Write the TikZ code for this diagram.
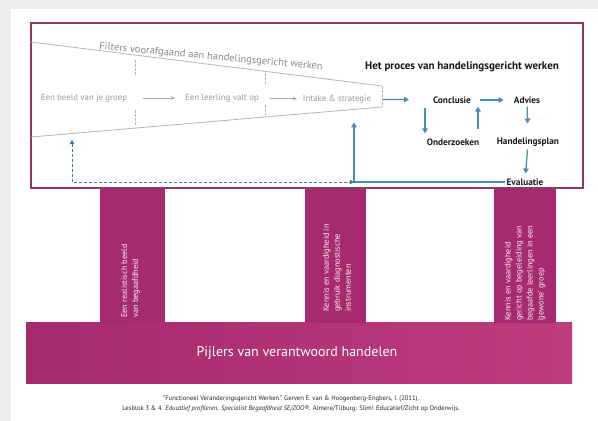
\documentclass[tikz,border=0pt]{standalone}
\usepackage{fontspec}
\setmainfont{PT Sans}
\usetikzlibrary{arrows.meta}
\definecolor{mag}{HTML}{A52A6E}
\definecolor{magR}{HTML}{BE3C7E}
\definecolor{framec}{HTML}{8E3A63}
\definecolor{hgblue}{HTML}{4A8CB4}
\definecolor{funnelc}{HTML}{BDB5A8}
\definecolor{fgray}{HTML}{9A9A9A}
\definecolor{bggray}{HTML}{ECECEC}
\begin{document}
\begin{tikzpicture}[x=1pt,y=-1pt,
  procnode/.style={font=\bfseries\fontsize{9.3}{11}\selectfont, inner sep=1pt, text=black!90},
  filternode/.style={text=fgray, font=\fontsize{8.8}{10}\selectfont, inner sep=1pt},
  bluearrow/.style={hgblue, line width=1.3pt, -{Triangle[length=5pt,width=5.5pt]}},
  bluedash/.style={hgblue!85!black, line width=0.9pt, dashed, dash pattern=on 3pt off 2pt, {Triangle[length=4pt,width=4.5pt]}-{Triangle[length=4pt,width=4.5pt]}},
  grayarrow/.style={fgray!80, line width=0.8pt, -{Stealth[length=4pt,width=4pt]}},
  funnelline/.style={funnelc, line width=0.8pt},
  sepline/.style={funnelc, line width=0.8pt, dash pattern=on 2.5pt off 1.5pt},
  pillartext/.style={text=white!92!mag, rotate=90, anchor=west, align=left, inner sep=0pt, font=\fontsize{8.3}{11}\selectfont},
  pillar/.style={fill=mag, draw=none}
]
% page background
\useasboundingbox (0,0) rectangle (598,421);
\fill[bggray] (0,0) rectangle (598,421);
\fill[white] (11,9) rectangle (598,421);

% pillars and base
\fill[left color=mag, right color=magR] (26,322) rectangle (572,383);
\fill[pillar] (100,188) rectangle (165,322.5);
\fill[pillar] (305,188) rectangle (366,322.5);
\fill[pillar] (494,188) rectangle (556,322.5);

\node[pillartext] (p1) at (130.5,318) {Een realistisch beeld\\van begaafdheid};
\node[pillartext] (p2) at (337,312) {Kennis en vaardigheid in\\gebruik diagnostische\\instrumenten};
\node[pillartext] (p3) at (525,321) {Kennis en vaardigheid\\gericht op begeleiding van\\begaafde leerlingen in een\\'gewone' groep};
\node[text=white, font=\fontsize{14}{16}\selectfont, inner sep=1pt] (pijlers) at (297,353) {Pijlers van verantwoord handelen};

% frame
\draw[framec, line width=1.3pt] (31,23) rectangle (583,188);

% funnel
\draw[funnelline] (31,42) -- (382,86);
\draw[funnelline] (31,137) -- (382,107);
\draw[sepline] (382,86) -- (382,107);
\draw[sepline] (135,60) -- (135,75);
\draw[sepline] (135,110) -- (135,125);
\draw[sepline] (265,73) -- (265,84);
\draw[sepline] (265,105) -- (265,117);

\node[text=fgray!90!black, font=\fontsize{10.5}{12}\selectfont, rotate=-5.3, inner sep=1pt] (filters) at (211,57) {Filters voorafgaand aan handelingsgericht werken};

\node[filternode] (beeld) at (84,98) {Een beeld van je groep};
\node[filternode] (leerling) at (222,98) {Een leerling valt op};
\node[filternode] (intake) at (337,99) {Intake \& strategie};
\draw[grayarrow, shorten <=15pt, shorten >=9pt] (beeld) -- (leerling);
\draw[grayarrow, shorten <=10pt, shorten >=5pt] (leerling) -- (intake);

% process
\node[procnode, font=\bfseries\fontsize{11}{13}\selectfont] (titel) at (462,67) {Het proces van handelingsgericht werken};
\node[procnode] (conclusie) at (452,100) {Conclusie};
\node[procnode] (advies) at (527,100) {Advies};
\node[procnode] (onderzoeken) at (453,142) {Onderzoeken};
\node[procnode] (plan) at (528,142) {Handelingsplan};
\node[procnode] (evaluatie) at (525,182) {Evaluatie};

\draw[bluearrow, shorten <=11pt, shorten >=23pt] (intake) -- (conclusie);
\draw[bluearrow, shorten <=8pt, shorten >=9pt] (conclusie) -- (advies);
\draw[bluearrow, shorten <=2pt, shorten >=13pt] (advies) -- (plan);
\draw[bluearrow, shorten <=2pt, shorten >=4pt] (plan) -- (evaluatie);
\draw[bluearrow, shorten <=3pt, shorten >=4pt] ([xshift=-27pt]conclusie.south) -- ([xshift=-28pt]onderzoeken.north);
\draw[bluearrow, shorten <=8pt, shorten >=2pt] ([xshift=25pt]onderzoeken.north) -- ([xshift=26pt]conclusie.south);

\coordinate (loopc) at (354,182);
\coordinate (fb) at (72,140);
\draw[bluearrow, shorten >=18pt] (evaluatie.west) -| ([xshift=17pt]intake.south);
\draw[bluedash] (fb) |- (loopc);

% caption
\node[font=\fontsize{6.6}{8}\selectfont, inner sep=0pt, text=black!85] (cap1) at (291,399) {"Functioneel Veranderingsgericht Werken." Gerven E. van \& Hoogenberg-Engbers, I. (2011).};
\node[font=\fontsize{6.6}{8}\selectfont, inner sep=0pt, text=black!85] (cap2) at (291,409) {Lesblok 3 \& 4. \textit{Educatief profileren. Specialist Begaafdheid SE/ZOO®}. Almere/Tilburg: Slim! Educatief/Zicht op Onderwijs.};
\end{tikzpicture}
\end{document}
